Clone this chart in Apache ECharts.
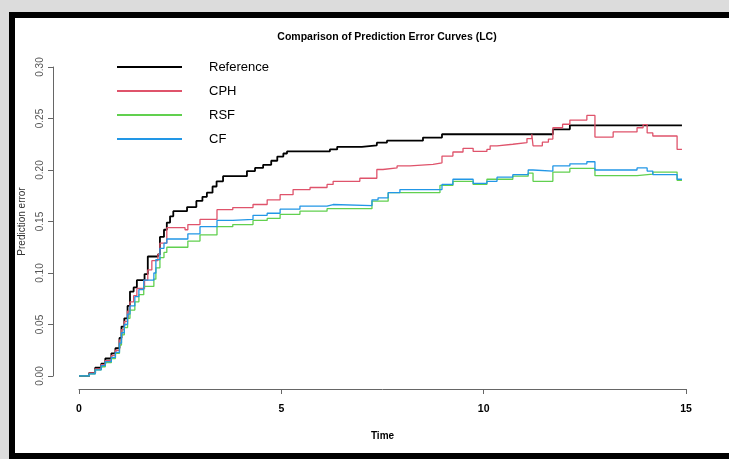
<!DOCTYPE html>
<html>
<head>
<meta charset="utf-8">
<script src="https://cdn.jsdelivr.net/npm/echarts@6/dist/echarts.min.js"></script>
<style>
  html, body { margin: 0; padding: 0; background: #dcdcdc; }
  #frame {
    position: absolute; left: 9px; top: 12px; width: 720px; height: 447px;
    box-sizing: border-box; background: #fff;
    border-top: 6px solid #000; border-left: 6px solid #000; border-bottom: 6px solid #000;
  }
  #chart { position: absolute; left: 0; top: 0; width: 729px; height: 459px; }
</style>
</head>
<body>
<div id="frame"></div>
<div id="chart"></div>
<script>
// series names, in legend order
const seriesNames = ['Reference', 'CPH', 'RSF', 'CF'];
const seriesColors = ['#000000', '#DF536B', '#61D04F', '#2297E6'];

// [time, prediction error] step points
const referenceCurve = [
  [0, 0], [0.25, 0.003], [0.4, 0.008], [0.55, 0.012], [0.65, 0.017], [0.8, 0.022], [0.9, 0.027],
  [1.0, 0.037], [1.05, 0.048], [1.12, 0.056], [1.2, 0.068], [1.26, 0.082], [1.35, 0.086],
  [1.43, 0.093], [1.62, 0.099], [1.7, 0.116], [1.95, 0.118], [2.0, 0.135], [2.1, 0.142],
  [2.17, 0.149], [2.25, 0.155], [2.33, 0.160], [2.67, 0.164], [2.9, 0.170], [3.05, 0.174],
  [3.16, 0.178], [3.3, 0.184], [3.4, 0.189], [3.56, 0.194], [4.15, 0.199], [4.35, 0.202],
  [4.55, 0.205], [4.75, 0.209], [4.9, 0.213], [5.05, 0.216], [5.14, 0.218], [6.2, 0.220],
  [6.38, 0.2225], [6.99, 0.224], [7.36, 0.2265], [7.61, 0.2285], [8.5, 0.2315], [8.97, 0.2347],
  [11.71, 0.2395], [12.13, 0.2434], [14.9, 0.2434]
];
const cphCurve = [
  [0, 0], [0.25, 0.003], [0.4, 0.007], [0.55, 0.011], [0.65, 0.015], [0.8, 0.020], [0.9, 0.025],
  [1.0, 0.035], [1.05, 0.045], [1.12, 0.053], [1.2, 0.063], [1.26, 0.072], [1.35, 0.078],
  [1.43, 0.085], [1.62, 0.093], [1.7, 0.103], [1.8, 0.112], [1.95, 0.118], [2.0, 0.129],
  [2.17, 0.144], [2.62, 0.142], [2.69, 0.147], [2.99, 0.152], [3.41, 0.1615], [3.8, 0.1635],
  [4.3, 0.1665], [4.65, 0.171], [4.97, 0.176], [5.29, 0.181], [5.71, 0.183], [6.13, 0.186],
  [6.28, 0.189], [6.94, 0.192], [7.36, 0.2005], [7.51, 0.202], [7.86, 0.204], [8.18, 0.2055],
  [8.75, 0.207], [8.97, 0.2135], [9.24, 0.2175], [9.49, 0.221], [9.74, 0.218], [10.08, 0.220],
  [10.16, 0.2235], [10.33, 0.225], [10.72, 0.2265], [11.07, 0.2305], [11.19, 0.2347],
  [11.22, 0.2235], [11.45, 0.227], [11.6, 0.230], [11.71, 0.241], [11.95, 0.2444],
  [12.13, 0.2485], [12.55, 0.253], [12.75, 0.232], [13.2, 0.237], [13.79, 0.241], [13.94, 0.244],
  [14.04, 0.236], [14.18, 0.233], [14.78, 0.220], [14.9, 0.220]
];
const rsfCurve = [
  [0, 0], [0.25, 0.002], [0.4, 0.006], [0.55, 0.009], [0.65, 0.013], [0.8, 0.017], [0.9, 0.022],
  [1.0, 0.030], [1.05, 0.040], [1.12, 0.047], [1.2, 0.056], [1.26, 0.064], [1.38, 0.072],
  [1.48, 0.079], [1.6, 0.087], [1.85, 0.094], [1.9, 0.105], [2.0, 0.115], [2.1, 0.120],
  [2.17, 0.125], [2.69, 0.131], [2.99, 0.137], [3.41, 0.145], [3.8, 0.147], [4.3, 0.151],
  [4.65, 0.153], [4.97, 0.157], [5.46, 0.160], [6.13, 0.1625], [7.24, 0.1697], [7.64, 0.178],
  [8.92, 0.185], [9.24, 0.189], [9.74, 0.186], [10.08, 0.191], [10.72, 0.194], [11.1, 0.197],
  [11.22, 0.189], [11.71, 0.198], [12.13, 0.2015], [12.75, 0.1945], [13.79, 0.196],
  [14.18, 0.198], [14.78, 0.190], [14.9, 0.190]
];
const cfCurve = [
  [0, 0], [0.25, 0.002], [0.4, 0.006], [0.55, 0.010], [0.65, 0.014], [0.8, 0.018], [0.9, 0.023],
  [1.0, 0.032], [1.05, 0.042], [1.12, 0.050], [1.2, 0.060], [1.26, 0.068], [1.38, 0.077],
  [1.48, 0.084], [1.6, 0.093], [1.85, 0.100], [1.9, 0.113], [2.0, 0.124], [2.1, 0.129],
  [2.17, 0.133], [2.69, 0.138], [2.99, 0.145], [3.41, 0.151], [3.8, 0.152], [4.3, 0.156],
  [4.65, 0.158], [4.97, 0.162], [5.46, 0.165], [6.13, 0.1665], [6.28, 0.1655], [7.24, 0.171],
  [7.39, 0.173], [7.64, 0.178], [7.93, 0.181], [8.97, 0.186], [9.24, 0.191], [9.74, 0.187],
  [10.08, 0.189], [10.33, 0.193], [10.72, 0.1955], [11.1, 0.200], [11.22, 0.199], [11.71, 0.204],
  [12.13, 0.206], [12.55, 0.208], [12.75, 0.200], [13.79, 0.202], [14.04, 0.199],
  [14.18, 0.1955], [14.78, 0.191], [14.9, 0.191]
];
const curves = [referenceCurve, cphCurve, rsfCurve, cfCurve];

const sans = '"Liberation Sans", Arial, sans-serif';

const chart = echarts.init(document.getElementById('chart'), null, { renderer: 'canvas' });

const option = {
  animation: false,
  backgroundColor: 'transparent',
  title: {
    text: 'Comparison of Prediction Error Curves (LC)',
    left: 382, top: 27, textAlign: 'center',
    textStyle: { fontFamily: sans, fontWeight: 'bold', fontSize: 10.5, color: '#000' }
  },
  legend: {
    orient: 'vertical',
    left: 112, top: 55,
    icon: 'rect',
    itemWidth: 65, itemHeight: 2, itemGap: 10,
    data: seriesNames,
    textStyle: { fontFamily: sans, fontSize: 13, lineHeight: 14, color: '#000', padding: [0, 0, 0, 22] }
  },
  grid: { left: 79, top: 67, width: 607, height: 309, containLabel: false },
  xAxis: {
    type: 'value', min: 0, max: 15, interval: 5,
    offset: 13,
    name: 'Time', nameLocation: 'middle', nameGap: 42,
    nameTextStyle: { fontFamily: sans, fontWeight: 'bold', fontSize: 10, color: '#000' },
    axisLine: { onZero: false, lineStyle: { color: '#666', width: 1 } },
    axisTick: { length: 5, lineStyle: { color: '#666' } },
    axisLabel: { margin: 15, fontFamily: sans, fontWeight: 'bold', fontSize: 10.5, color: '#000' },
    splitLine: { show: false }
  },
  yAxis: {
    type: 'value', min: 0, max: 0.3, interval: 0.05,
    offset: 26,
    name: 'Prediction error', nameLocation: 'middle', nameGap: 25,
    nameTextStyle: { fontFamily: sans, fontSize: 10, color: '#333' },
    axisLine: { show: true, onZero: false, lineStyle: { color: '#666', width: 1 } },
    axisTick: { show: true, length: 5, lineStyle: { color: '#666' } },
    axisLabel: {
      rotate: 90, margin: 8, fontSize: 10, color: '#555', fontFamily: sans,
      formatter: v => v.toFixed(2)
    },
    splitLine: { show: false }
  },
  series: curves.map((data, i) => ({
    name: seriesNames[i],
    type: 'line',
    step: 'end',
    symbol: 'none',
    data,
    color: seriesColors[i],
    lineStyle: { color: seriesColors[i], width: i === 0 ? 1.8 : 1.3 }
  }))
};

chart.setOption(option);
</script>
</body>
</html>
